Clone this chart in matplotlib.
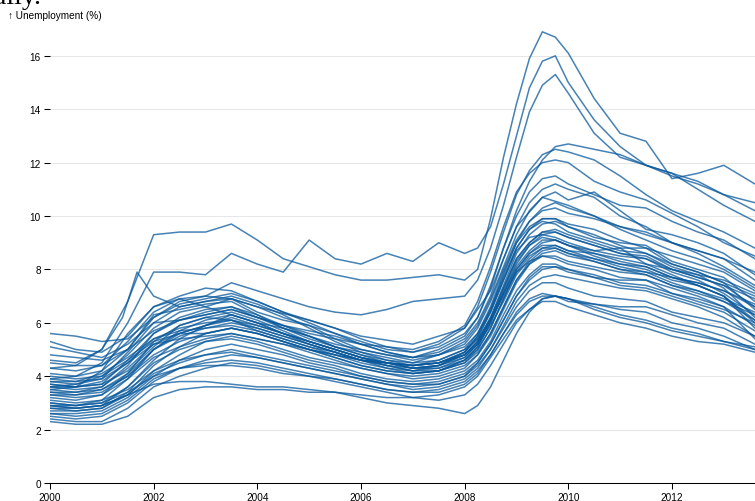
import matplotlib
matplotlib.use('Agg')
import matplotlib.pyplot as plt

# Sample times (fractional years)
years = [2000, 2000.5, 2001, 2001.5, 2002, 2002.5, 2003, 2003.5, 2004, 2004.5,
         2005, 2005.5, 2006, 2006.5, 2007, 2007.5, 2008, 2008.25, 2008.5, 2008.75,
         2009, 2009.25, 2009.5, 2009.75, 2010, 2010.5, 2011, 2011.5, 2012, 2012.5,
         2013, 2013.6]

# Unemployment (%) per metro division
s01 = [4.6, 4.5, 5.0, 6.8, 9.3, 9.4, 9.4, 9.7, 9.1, 8.4, 8.1, 7.8, 7.6, 7.6, 7.7, 7.8, 7.6, 8.0, 9.9, 12.2, 14.2, 15.9, 16.9, 16.7, 16.1, 14.4, 13.1, 12.8, 11.4, 11.6, 11.9, 11.2]
s02 = [3.9, 4.0, 4.5, 6.0, 7.9, 7.9, 7.8, 8.6, 8.2, 7.9, 9.1, 8.4, 8.2, 8.6, 8.3, 9.0, 8.6, 8.8, 9.6, 11.2, 13.0, 14.8, 15.8, 16.0, 15.0, 13.6, 12.6, 11.9, 11.5, 11.2, 10.8, 10.2]
s03 = [3.7, 3.6, 4.2, 5.6, 6.6, 6.9, 7.0, 7.5, 7.2, 6.9, 6.6, 6.4, 6.3, 6.5, 6.8, 6.9, 7.0, 7.6, 8.8, 10.4, 12.2, 13.9, 14.9, 15.3, 14.6, 13.1, 12.2, 11.9, 11.6, 11.3, 10.8, 10.5]
s04 = [5.6, 5.5, 5.3, 5.4, 6.2, 6.8, 7.0, 6.9, 6.4, 6.1, 5.9, 5.6, 5.3, 5.0, 4.9, 5.1, 5.6, 6.2, 7.3, 8.8, 10.2, 11.3, 12.1, 12.6, 12.7, 12.5, 12.3, 11.9, 11.6, 11.0, 10.4, 9.8]
s05 = [5.3, 5.0, 4.9, 5.5, 6.6, 7.0, 7.3, 7.2, 6.8, 6.4, 6.1, 5.8, 5.4, 5.1, 4.9, 5.2, 5.8, 6.6, 7.9, 9.4, 10.8, 11.7, 12.3, 12.5, 12.4, 12.1, 11.5, 10.8, 10.2, 9.8, 9.4, 8.8]
s06 = [5.1, 4.9, 4.7, 5.2, 6.0, 6.1, 6.3, 6.5, 6.2, 5.9, 5.6, 5.4, 5.2, 5.1, 5.0, 5.3, 5.9, 6.8, 8.1, 9.6, 10.9, 11.6, 12.0, 12.1, 12.0, 11.3, 10.9, 10.6, 10.1, 9.6, 9.0, 8.5]
s07 = [4.8, 4.7, 4.6, 5.0, 5.7, 6.1, 6.4, 6.6, 6.3, 5.8, 5.5, 5.2, 5.0, 4.8, 4.7, 5.0, 5.5, 6.2, 7.4, 8.8, 10.0, 10.9, 11.4, 11.5, 11.2, 10.8, 10.4, 10.3, 9.8, 9.4, 9.1, 8.4]
s08 = [4.5, 4.4, 4.4, 5.0, 6.3, 6.5, 6.7, 6.8, 6.3, 5.9, 5.7, 5.5, 5.2, 4.9, 4.7, 4.9, 5.4, 6.0, 7.0, 8.4, 9.6, 10.5, 11.0, 11.2, 11.0, 10.7, 10.0, 9.6, 9.0, 8.7, 8.4, 7.6]
s09 = [4.3, 4.2, 4.4, 5.3, 6.4, 6.9, 6.6, 6.3, 6.0, 5.8, 5.5, 5.1, 4.8, 4.6, 4.5, 4.8, 5.3, 5.9, 6.9, 8.1, 9.3, 10.2, 10.7, 10.9, 10.6, 10.9, 10.2, 9.5, 9.3, 9.0, 8.6, 7.8]
s10 = [4.0, 3.9, 4.0, 4.8, 5.8, 6.4, 6.6, 6.9, 6.6, 6.2, 5.9, 5.4, 5.0, 4.8, 4.6, 4.8, 5.2, 5.8, 6.8, 8.0, 9.1, 9.8, 10.2, 10.3, 10.1, 9.9, 9.6, 9.4, 9.0, 8.6, 8.1, 7.4]
s11 = [3.8, 3.7, 3.9, 4.9, 6.0, 6.6, 6.8, 7.0, 6.7, 6.3, 5.8, 5.3, 4.9, 4.6, 4.4, 4.5, 4.9, 5.4, 6.4, 7.6, 8.8, 9.5, 9.9, 9.9, 9.7, 9.5, 9.1, 8.8, 8.5, 8.2, 7.9, 7.2]
s12 = [3.7, 3.6, 3.7, 4.6, 5.6, 6.1, 6.3, 6.5, 6.2, 5.9, 5.5, 5.1, 4.8, 4.5, 4.3, 4.4, 4.8, 5.3, 6.2, 7.4, 8.6, 9.3, 9.7, 9.8, 9.6, 9.2, 9.0, 8.9, 8.3, 8.0, 7.7, 6.8]
s13 = [3.6, 3.6, 3.8, 4.5, 5.4, 5.8, 6.0, 6.1, 5.9, 5.6, 5.3, 5.0, 4.7, 4.5, 4.4, 4.5, 4.9, 5.5, 6.5, 7.7, 8.8, 9.5, 9.8, 9.7, 9.4, 9.1, 8.8, 8.8, 8.2, 7.9, 7.5, 6.5]
s14 = [3.5, 3.4, 3.6, 4.4, 5.6, 6.2, 6.5, 6.6, 6.2, 5.8, 5.4, 5.1, 4.9, 4.7, 4.5, 4.6, 5.0, 5.6, 6.6, 7.9, 9.0, 9.6, 9.9, 9.9, 9.6, 9.3, 8.9, 8.6, 8.1, 7.8, 7.3, 6.2]
s15 = [3.6, 3.5, 3.6, 4.3, 5.2, 5.6, 5.9, 6.3, 6.0, 5.6, 5.2, 4.9, 4.6, 4.3, 4.1, 4.2, 4.6, 5.1, 6.0, 7.1, 8.2, 8.9, 9.3, 9.4, 9.2, 8.9, 8.6, 8.4, 8.0, 7.7, 7.4, 6.9]
s16 = [3.4, 3.4, 3.5, 4.1, 5.0, 5.5, 5.8, 6.0, 5.8, 5.5, 5.2, 4.9, 4.6, 4.4, 4.2, 4.3, 4.7, 5.2, 6.1, 7.2, 8.3, 8.9, 9.2, 9.1, 8.9, 8.7, 8.5, 8.4, 7.9, 7.6, 7.1, 6.3]
s17 = [3.5, 3.6, 3.7, 4.2, 5.1, 5.9, 6.2, 6.1, 5.7, 5.4, 5.1, 4.8, 4.5, 4.3, 4.2, 4.4, 4.9, 5.5, 6.4, 7.6, 8.7, 9.2, 9.3, 9.2, 9.0, 8.7, 8.8, 8.2, 7.8, 7.4, 7.0, 5.8]
s18 = [3.3, 3.3, 3.5, 4.0, 4.8, 5.3, 5.6, 5.8, 5.6, 5.3, 5.0, 4.7, 4.4, 4.2, 4.1, 4.2, 4.5, 5.0, 5.8, 6.9, 8.0, 8.6, 9.0, 9.1, 8.9, 8.5, 8.2, 8.0, 7.6, 7.4, 7.0, 6.0]
s19 = [3.4, 3.3, 3.4, 4.0, 5.0, 5.6, 5.9, 6.2, 5.9, 5.6, 5.3, 5.0, 4.7, 4.4, 4.2, 4.2, 4.5, 4.9, 5.6, 6.6, 7.6, 8.3, 8.7, 8.8, 8.6, 8.3, 8.0, 7.9, 7.7, 7.5, 7.2, 6.7]
s20 = [3.6, 3.7, 4.0, 4.6, 5.3, 5.6, 5.6, 5.8, 5.6, 5.3, 5.0, 4.8, 4.6, 4.5, 4.4, 4.5, 4.8, 5.2, 5.9, 6.8, 7.8, 8.4, 8.8, 8.9, 8.7, 8.4, 8.1, 7.9, 7.5, 7.2, 6.8, 6.3]
s21 = [3.3, 3.2, 3.3, 3.9, 4.7, 5.1, 5.4, 5.6, 5.4, 5.2, 4.9, 4.6, 4.3, 4.1, 4.0, 4.1, 4.4, 4.8, 5.5, 6.5, 7.5, 8.2, 8.5, 8.5, 8.3, 8.1, 7.9, 7.8, 7.4, 7.1, 6.8, 6.1]
s22 = [3.8, 3.8, 4.1, 4.7, 5.4, 5.7, 5.8, 5.9, 5.7, 5.4, 5.1, 4.9, 4.6, 4.5, 4.4, 4.6, 5.0, 5.4, 6.1, 7.0, 7.9, 8.3, 8.5, 8.4, 8.2, 8.0, 7.7, 7.6, 7.3, 7.0, 6.6, 5.4]
s23 = [2.9, 2.8, 2.9, 3.6, 4.6, 5.4, 5.9, 6.1, 5.8, 5.5, 5.2, 4.9, 4.6, 4.4, 4.3, 4.4, 4.8, 5.3, 6.2, 7.3, 8.4, 9.0, 9.4, 9.4, 9.2, 8.9, 8.6, 8.5, 8.0, 7.7, 7.4, 6.6]
s24 = [2.8, 2.7, 2.8, 3.4, 4.4, 5.1, 5.6, 5.8, 5.6, 5.3, 5.0, 4.7, 4.4, 4.2, 4.1, 4.2, 4.6, 5.1, 6.0, 7.1, 8.1, 8.7, 9.1, 9.1, 8.9, 8.6, 8.3, 8.1, 7.7, 7.4, 7.0, 6.1]
s25 = [2.7, 2.7, 2.8, 3.3, 4.2, 4.8, 5.3, 5.5, 5.3, 5.0, 4.7, 4.5, 4.3, 4.1, 3.9, 4.0, 4.3, 4.8, 5.6, 6.6, 7.6, 8.2, 8.6, 8.7, 8.5, 8.3, 8.0, 7.8, 7.4, 7.2, 6.9, 6.4]
s26 = [3.0, 2.9, 3.0, 3.6, 4.5, 5.0, 5.3, 5.4, 5.2, 4.9, 4.6, 4.4, 4.1, 3.9, 3.8, 3.9, 4.2, 4.6, 5.3, 6.3, 7.2, 7.8, 8.2, 8.2, 8.0, 7.8, 7.5, 7.4, 7.1, 6.8, 6.5, 6.0]
s27 = [2.6, 2.6, 2.7, 3.2, 4.0, 4.6, 5.0, 5.2, 5.0, 4.8, 4.5, 4.3, 4.0, 3.8, 3.7, 3.8, 4.1, 4.5, 5.2, 6.1, 7.0, 7.7, 8.1, 8.1, 8.0, 7.7, 7.4, 7.3, 7.0, 6.7, 6.4, 5.7]
s28 = [2.8, 2.8, 2.9, 3.3, 4.1, 4.5, 4.8, 5.0, 4.8, 4.6, 4.4, 4.2, 4.0, 3.8, 3.7, 3.7, 4.0, 4.4, 5.0, 5.9, 6.8, 7.4, 7.7, 7.8, 7.7, 7.5, 7.3, 7.2, 6.9, 6.6, 6.2, 5.5]
s29 = [2.5, 2.4, 2.5, 3.0, 3.8, 4.3, 4.6, 4.8, 4.7, 4.5, 4.3, 4.1, 3.9, 3.7, 3.5, 3.6, 3.9, 4.3, 5.0, 5.8, 6.6, 7.2, 7.5, 7.5, 7.3, 7.0, 6.9, 6.8, 6.4, 6.2, 6.0, 5.5]
s30 = [2.4, 2.3, 2.3, 2.8, 3.6, 4.0, 4.3, 4.5, 4.4, 4.2, 4.0, 3.9, 3.7, 3.5, 3.4, 3.4, 3.7, 4.1, 4.8, 5.6, 6.4, 6.9, 7.1, 7.0, 6.9, 6.7, 6.6, 6.6, 6.3, 6.0, 5.8, 5.2]
s31 = [2.9, 2.9, 3.0, 3.4, 4.0, 4.3, 4.5, 4.6, 4.5, 4.3, 4.1, 3.9, 3.7, 3.5, 3.4, 3.5, 3.8, 4.2, 4.8, 5.6, 6.3, 6.8, 7.0, 7.0, 6.8, 6.7, 6.5, 6.4, 6.0, 5.8, 5.5, 5.0]
s32 = [2.3, 2.2, 2.2, 2.5, 3.2, 3.5, 3.6, 3.6, 3.5, 3.5, 3.4, 3.4, 3.3, 3.2, 3.2, 3.3, 3.6, 4.0, 4.7, 5.4, 6.1, 6.5, 6.8, 6.8, 6.6, 6.3, 6.0, 5.8, 5.5, 5.3, 5.2, 4.9]
s33 = [3.1, 3.0, 3.1, 3.5, 4.2, 4.6, 4.8, 4.9, 4.7, 4.5, 4.3, 4.1, 3.9, 3.7, 3.6, 3.7, 4.0, 4.5, 5.2, 6.1, 7.0, 7.6, 8.0, 8.1, 7.9, 7.7, 7.6, 7.6, 7.1, 6.9, 6.6, 5.9]
s34 = [2.6, 2.5, 2.6, 3.1, 3.9, 4.3, 4.4, 4.4, 4.3, 4.1, 4.0, 3.8, 3.6, 3.4, 3.2, 3.1, 3.3, 3.7, 4.4, 5.2, 6.0, 6.5, 6.9, 7.0, 6.9, 6.6, 6.3, 6.1, 5.8, 5.6, 5.3, 5.1]
s35 = [2.9, 2.8, 2.9, 3.3, 3.7, 3.8, 3.8, 3.7, 3.6, 3.6, 3.5, 3.4, 3.2, 3.0, 2.9, 2.8, 2.6, 2.9, 3.6, 4.6, 5.6, 6.4, 6.9, 7.0, 6.9, 6.5, 6.2, 6.0, 5.7, 5.5, 5.3, 5.0]
s36 = [3.2, 3.1, 3.3, 4.1, 5.3, 5.9, 6.2, 6.4, 6.1, 5.7, 5.3, 5.0, 4.7, 4.5, 4.3, 4.4, 4.7, 5.2, 6.1, 7.3, 8.4, 9.0, 9.4, 9.5, 9.3, 9.0, 8.7, 8.6, 8.2, 7.9, 7.5, 7.0]
s37 = [3.0, 2.9, 3.1, 3.9, 5.0, 5.7, 6.1, 6.3, 6.0, 5.6, 5.3, 5.0, 4.7, 4.5, 4.3, 4.3, 4.6, 5.0, 5.8, 6.9, 7.9, 8.5, 8.8, 8.8, 8.6, 8.4, 8.2, 8.1, 7.7, 7.5, 7.2, 6.6]
s38 = [4.1, 4.0, 4.2, 5.0, 6.2, 6.7, 6.9, 7.1, 6.8, 6.4, 6.0, 5.6, 5.2, 4.9, 4.7, 4.8, 5.1, 5.6, 6.5, 7.8, 9.0, 9.8, 10.3, 10.5, 10.3, 10.0, 9.5, 9.1, 8.7, 8.4, 8.0, 7.3]
s39 = [3.9, 3.8, 3.9, 4.5, 5.2, 5.4, 5.5, 5.6, 5.4, 5.2, 5.0, 4.8, 4.6, 4.5, 4.4, 4.5, 4.8, 5.3, 6.1, 7.1, 8.0, 8.6, 8.9, 8.9, 8.7, 8.6, 8.4, 8.2, 8.0, 7.8, 7.6, 7.1]

# one division with a short spike in 2001, sampled more finely there
spike_years = [2000, 2000.5, 2001, 2001.4, 2001.68, 2002, 2002.5, 2003, 2003.5, 2004,
               2005, 2006, 2007, 2008, 2008.5, 2009, 2009.5, 2010, 2011, 2012, 2013, 2013.6]
spike_vals = [4.3, 4.4, 5.0, 6.2, 7.9, 7.0, 6.6, 6.8, 6.9, 6.6,
              6.1, 5.5, 5.2, 5.8, 7.2, 9.6, 10.7, 10.4, 9.6, 9.0, 8.4, 7.9]

series = [s01, s02, s03, s04, s05, s06, s07, s08, s09, s10, s11, s12, s13,
          s14, s15, s16, s17, s18, s19, s20, s21, s22, s23, s24, s25, s26,
          s27, s28, s29, s30, s31, s32, s33, s34, s35, s36, s37, s38, s39]

yticks = [0, 2, 4, 6, 8, 10, 12, 14, 16]
xticks = [2000, 2002, 2004, 2006, 2008, 2010, 2012]

font = ['Liberation Sans', 'DejaVu Sans']
plt.rcParams['font.family'] = font

fig = plt.figure(figsize=(7.55, 5.02), dpi=100)
ax = fig.add_axes([50 / 755, 18 / 502, 705 / 755, 464 / 502])

# steelblue look-alike: darker colour with alpha so overlaps get darker (like multiply)
line_color = (8 / 255, 88 / 255, 155 / 255)
for vals in series:
    ax.plot(years, vals, color=line_color, alpha=0.75, lw=1.1,
            solid_joinstyle='round', solid_capstyle='round')
ax.plot(spike_years, spike_vals, color=line_color, alpha=0.75, lw=1.1,
        solid_joinstyle='round')

ax.set_xlim(2000, 2000 + 705 / 51.83)
ax.set_ylim(0, 17.38)

# light horizontal grid lines
for yv in yticks:
    ax.axhline(yv, color='#e6e6e6', lw=0.75, zorder=0)

ax.set_yticks(yticks)
ax.set_yticklabels([str(v) for v in yticks])
ax.set_xticks(xticks)
ax.set_xticklabels([str(v) for v in xticks])
ax.tick_params(axis='both', labelsize=7.2, length=4.3, width=0.75, pad=2.2, colors='black')

for side in ['top', 'right', 'left']:
    ax.spines[side].set_visible(False)
ax.spines['bottom'].set_linewidth(0.75)
ax.spines['bottom'].set_zorder(5)

fig.text(8 / 755, 1 - 16 / 502, '↑ Unemployment (%)', fontsize=7.2,
         ha='left', va='center', family=font)

# bit of page text cut off above the chart
fig.text(-6 / 755, 1 - 4 / 502, 'ally.', fontsize=20, ha='left', va='baseline',
         family=['Liberation Serif', 'DejaVu Serif'])

fig.savefig('out.png', dpi=100)
